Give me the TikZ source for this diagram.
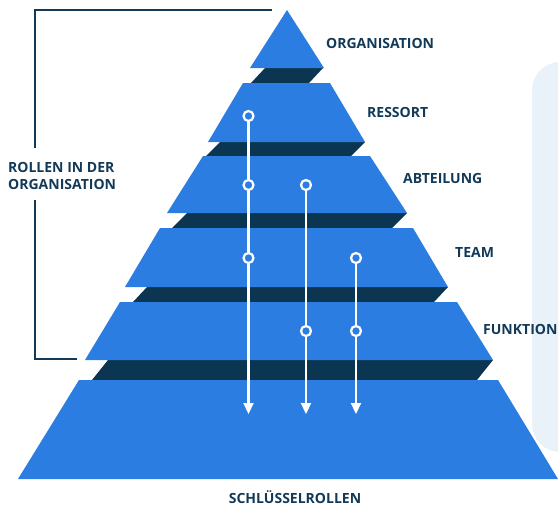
\documentclass[tikz,border=0pt]{standalone}
\usepackage{fontspec}
\setmainfont{Open Sans}
\usepackage{xcolor}
\usepackage{tikz}
\usetikzlibrary{arrows.meta}

\definecolor{pyrblue}{HTML}{2B7DE1}
\definecolor{pyrdark}{HTML}{0B3551}
\definecolor{labeltext}{HTML}{123A58}
\definecolor{panelbg}{HTML}{EAF2F9}
\newcommand{\lbl}{\fontsize{14}{17}\selectfont\bfseries}

\begin{document}
\begin{tikzpicture}[
  x=1pt, y=-1pt,
  tier/.style={fill=pyrblue},
  band/.style={fill=pyrdark},
  tierlabel/.style={font=\lbl, text=labeltext, inner sep=0pt, anchor=base west},
  joint/.style={circle, draw=white, fill=pyrblue, line width=2.2pt, minimum size=10pt, inner sep=0pt},
  flow/.style={draw=white, line width=2.2pt},
  bracket/.style={draw=labeltext, line width=2.8pt}
]
\useasboundingbox (0,0) rectangle (558,507);
\clip (0,0) rectangle (558,507);

\fill[panelbg, rounded corners=28pt] (532,62) rectangle (620,452);

\fill[band] (265,68) -- (323,68) -- (309,83) -- (251,83) -- cycle;
\fill[band] (220,142) -- (365,142) -- (351,156) -- (206,156) -- cycle;
\fill[band] (187,213) -- (407,213) -- (392,228) -- (172,228) -- cycle;
\fill[band] (147,287) -- (448,287) -- (434,302) -- (133,302) -- cycle;
\fill[band] (108,360) -- (493,360) -- (477,380) -- (92,380) -- cycle;

\fill[tier] (287,10) -- (324,68) -- (250,68) -- cycle;
\fill[tier] (243,83) -- (330,83) -- (365,142) -- (208,142) -- cycle;
\fill[tier] (203,156) -- (370,156) -- (407,213) -- (167,213) -- cycle;
\fill[tier] (160,228) -- (413,228) -- (448,287) -- (125,287) -- cycle;
\fill[tier] (120,302) -- (457,302) -- (493,360) -- (85,360) -- cycle;
\fill[tier] (79,380) -- (498,380) -- (558,479) -- (18,479) -- cycle;

\node[tierlabel] (organisation) at (326,48) {ORGANISATION};
\node[tierlabel] (ressort) at (367,117) {RESSORT};
\node[tierlabel] (abteilung) at (403,183) {ABTEILUNG};
\node[tierlabel] (team) at (455,257) {TEAM};
\node[tierlabel] (funktion) at (483,334) {FUNKTION};
\node[tierlabel, anchor=base] (schluessel) at (295,503) {SCHLÜSSELROLLEN};
\node[tierlabel, anchor=west, align=left] (rollen) at (8,175.5) {ROLLEN IN DER\\ORGANISATION};

\coordinate (bt) at (272,10);
\coordinate (bb) at (77,359);
\draw[bracket] (bt) -- (35,10) -- (35,148);
\draw[bracket] (35,200) -- (35,359) -- (bb);

\node[joint] (r1) at (248.5,116) {};
\node[joint] (a1) at (248.5,185) {};
\node[joint] (t1) at (248.5,258) {};
\node[joint] (a2) at (306,185) {};
\node[joint] (f2) at (306,331) {};
\node[joint] (t3) at (356,258) {};
\node[joint] (f3) at (356,331) {};
\coordinate (e1) at (248.5,414);
\coordinate (e2) at (306,414);
\coordinate (e3) at (356,414);

\draw[flow, -{Triangle[width=10pt,length=11pt]}] (r1) -- (a1) -- (t1) -- (e1);
\draw[flow, -{Triangle[width=10pt,length=11pt]}] (a2) -- (f2) -- (e2);
\draw[flow, -{Triangle[width=10pt,length=11pt]}] (t3) -- (f3) -- (e3);
\end{tikzpicture}
\end{document}
